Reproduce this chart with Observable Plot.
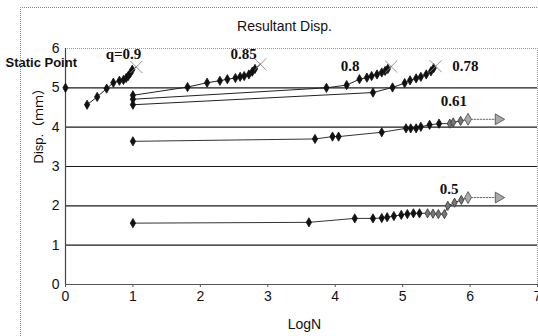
<!DOCTYPE html>
<html>
<head>
<meta charset="utf-8">
<script src="https://cdn.jsdelivr.net/npm/d3@7"></script>
<script src="https://cdn.jsdelivr.net/npm/@observablehq/plot@0.6"></script>
<style>
  html, body { margin: 0; padding: 0; background: #fff; }
  #chart svg { display: block; }
</style>
</head>
<body>
<div id="chart"></div>
<script>
// ---- data ----
const xTicks = [0, 1, 2, 3, 4, 5, 6, 7];
const yTicks = [0, 1, 2, 3, 4, 5, 6];

const staticX = [0];
const staticY = [5.0];

const q09X = [0.32, 0.47, 0.61, 0.71, 0.80, 0.86, 0.90, 0.93, 0.96, 0.99];
const q09Y = [4.57, 4.77, 4.98, 5.13, 5.18, 5.20, 5.25, 5.30, 5.37, 5.46];
const q09End = [1.05, 5.53];

const q085X = [1.0, 1.81, 2.10, 2.29, 2.40, 2.52, 2.59, 2.65, 2.72, 2.77, 2.81];
const q085Y = [4.81, 5.02, 5.13, 5.18, 5.22, 5.25, 5.28, 5.30, 5.34, 5.41, 5.48];
const q085End = [2.89, 5.60];

const q08X = [1.0, 3.87, 4.17, 4.36, 4.47, 4.54, 4.62, 4.69, 4.74, 4.78];
const q08Y = [4.71, 5.00, 5.07, 5.22, 5.26, 5.30, 5.34, 5.39, 5.43, 5.48];
const q08End = [4.83, 5.54];

const q078X = [1.0, 4.56, 4.85, 5.03, 5.11, 5.20, 5.27, 5.35, 5.42, 5.46];
const q078Y = [4.57, 4.88, 5.01, 5.12, 5.19, 5.24, 5.28, 5.34, 5.42, 5.50];
const q078End = [5.49, 5.55];

const q061X = [1.0, 3.70, 3.96, 4.05, 4.69, 5.05, 5.12, 5.20, 5.27, 5.40, 5.54, 5.70, 5.75, 5.86, 5.97];
const q061Y = [3.64, 3.70, 3.76, 3.76, 3.87, 3.97, 3.97, 3.97, 4.01, 4.06, 4.09, 4.09, 4.12, 4.16, 4.20];
const q061Arrow = [6.42, 4.20];

const q05X = [1.0, 3.61, 4.29, 4.56, 4.69, 4.77, 4.87, 4.98, 5.07, 5.16, 5.25, 5.37, 5.45, 5.53, 5.62, 5.67, 5.77, 5.87, 5.97];
const q05Y = [1.56, 1.58, 1.68, 1.68, 1.69, 1.71, 1.74, 1.77, 1.79, 1.81, 1.81, 1.81, 1.80, 1.79, 1.79, 2.00, 2.08, 2.15, 2.21];
const q05Arrow = [6.42, 2.21];

const labelText = ["q=0.9", "0.85", "0.8", "0.78", "0.61", "0.5"];
const labelX = [0.86, 2.64, 4.22, 5.93, 5.76, 5.69];
const labelY = [5.86, 5.86, 5.56, 5.56, 4.67, 2.42];

// ---- build tables ----
const zip = (xs, ys, name) => xs.map((x, i) => ({x, y: ys[i], s: name}));
const pts = (name, xs, ys, end) => zip(xs, ys, name).concat(end ? [{x: end[0], y: end[1], s: name}] : []);

const lineData = [
  ...pts("0.9", q09X, q09Y, q09End),
  ...pts("0.85", q085X, q085Y, q085End),
  ...pts("0.8", q08X, q08Y, q08End),
  ...pts("0.78", q078X, q078Y, q078End)
];
const tailLines = [
  ...pts("0.61", q061X, q061Y, null),
  ...pts("0.5", q05X, q05Y, null)
];
const arrowLines = [
  {x: q061X[q061X.length - 1], y: q061Y[q061Y.length - 1], s: "a61"},
  {x: q061Arrow[0], y: q061Arrow[1], s: "a61"},
  {x: q05X[q05X.length - 1], y: q05Y[q05Y.length - 1], s: "a5"},
  {x: q05Arrow[0], y: q05Arrow[1], s: "a5"}
];

const blackDots = [
  ...zip(staticX, staticY, "st"),
  ...zip(q09X, q09Y, "0.9"),
  ...zip(q085X, q085Y, "0.85"),
  ...zip(q08X, q08Y, "0.8"),
  ...zip(q078X, q078Y, "0.78"),
  ...zip(q061X.slice(0, -1), q061Y.slice(0, -1), "0.61"),
  ...zip(q05X.slice(0, -1), q05Y.slice(0, -1), "0.5")
];
const isGray = d => (d.s === "0.61" && d.x >= 5.69) || (d.s === "0.5" && d.x >= 5.3);
const crossDots = [q09End, q085End, q08End, q078End].map(([x, y]) => ({x, y}));
const bigGray = [
  {x: q061X[q061X.length - 1], y: q061Y[q061Y.length - 1]},
  {x: q05X[q05X.length - 1], y: q05Y[q05Y.length - 1]}
];
const arrows = [q061Arrow, q05Arrow].map(([x, y]) => ({x, y}));
const labels = labelText.map((t, i) => ({t, x: labelX[i], y: labelY[i]}));

const chart = Plot.plot({
  width: 538,
  height: 336,
  marginLeft: 65,
  marginRight: 1,
  marginTop: 48,
  marginBottom: 52,
  x: {domain: [0, 7]},
  y: {domain: [0, 6]},
  style: {fontFamily: "'Liberation Sans', Arial, sans-serif", background: "#fff", color: "#111", overflow: "visible"},
  marks: [
    Plot.ruleY([6], {stroke: "#999", strokeWidth: 1, strokeDasharray: "1,1"}),
    Plot.ruleX([7], {stroke: "#999", strokeWidth: 1, strokeDasharray: "1,1"}),
    Plot.ruleY([1, 2, 3, 4, 5], {stroke: "#1a1a1a", strokeWidth: 1.2}),
    Plot.ruleY([0], {stroke: "#555", strokeWidth: 1}),
    Plot.ruleX([0], {stroke: "#444", strokeWidth: 1.2}),
    Plot.axisX({ticks: xTicks, tickSize: 3, tickPadding: 4, fontSize: 14, label: null, tickFormat: d => String(d), stroke: "#555"}),
    Plot.axisY({ticks: yTicks, tickSize: 0, tickPadding: 6, fontSize: 14, label: null, tickFormat: d => String(d)}),
    Plot.line(lineData, {x: "x", y: "y", z: "s", stroke: "#222", strokeWidth: 1}),
    Plot.line(tailLines, {x: "x", y: "y", z: "s", stroke: "#333", strokeWidth: 1}),
    Plot.line(arrowLines, {x: "x", y: "y", z: "s", stroke: "#666", strokeWidth: 1, strokeDasharray: "1.5,1.5"}),
    Plot.dot(blackDots, {x: "x", y: "y", symbol: "diamond", r: 2.8,
      fill: d => isGray(d) ? "#777" : "#111", stroke: d => isGray(d) ? "#333" : "#111", strokeWidth: 0.8}),
    Plot.dot(crossDots, {x: "x", y: "y", symbol: "times", r: 5.5, stroke: "#888", strokeWidth: 0.9}),
    Plot.dot(bigGray, {x: "x", y: "y", symbol: "diamond", r: 3.6, fill: "#aaa", stroke: "#555", strokeWidth: 0.9}),
    Plot.dot(arrows, {x: "x", y: "y", symbol: "triangle", r: 4, rotate: 90, fill: "#aaa", stroke: "#555", strokeWidth: 0.9}),
    Plot.text(labels, {x: "x", y: "y", text: "t", fontFamily: "'Liberation Serif', 'Times New Roman', serif",
      fontWeight: "bold", fontSize: 15, fill: "#111"}),
    Plot.text(["Static Point"], {x: 0, y: 5.63, dx: -60, textAnchor: "start", fontWeight: "bold", fontSize: 13, fill: "#111"}),
    Plot.text(["Resultant Disp."], {frameAnchor: "top", dx: -17, dy: -27, fontSize: 14, fill: "#111"}),
    Plot.text(["LogN"], {frameAnchor: "bottom", dx: 3, dy: 44, fontSize: 14, fill: "#111"}),
    Plot.text(["Disp.（ｍｍ）"], {frameAnchor: "left", dx: -27, dy: -3, rotate: -90, fontSize: 13, fill: "#111",
      fontFamily: "'Liberation Sans', Arial, 'Noto Sans CJK JP', sans-serif"})
  ]
});

d3.select(chart).append("path")
  .attr("d", "M20.5,336V7.5H538")
  .attr("fill", "none")
  .attr("stroke", "#888")
  .attr("stroke-width", 1)
  .attr("stroke-dasharray", "1,1");

document.getElementById("chart").appendChild(chart);
</script>
</body>
</html>
